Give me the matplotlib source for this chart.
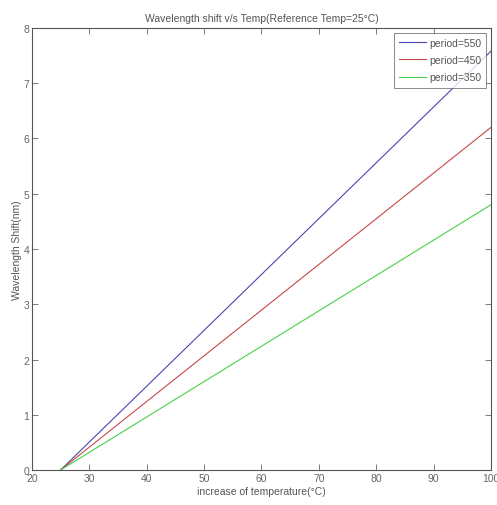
import matplotlib
matplotlib.use("Agg")
import matplotlib.pyplot as plt

temp = [25, 100]
shift_550 = [0, 7.58]
shift_450 = [0, 6.20]
shift_350 = [0, 4.80]

plt.rcParams['font.family'] = ['Liberation Sans', 'DejaVu Sans']

fig = plt.figure(figsize=(4.97, 5.06), dpi=100)
ax = fig.add_axes([0.064, 0.069, 0.924, 0.874])

ax.plot(temp, shift_550, color='#4848b0', lw=0.8, label='period=550')
ax.plot(temp, shift_450, color='#c84848', lw=0.8, label='period=450')
ax.plot(temp, shift_350, color='#48d048', lw=0.8, label='period=350')

ax.set_xlim(20, 100)
ax.set_ylim(0, 8)
ax.set_xticks(range(20, 101, 10))
ax.set_yticks(range(0, 9))
ax.tick_params(direction='in', top=True, right=True, labelsize=7.5,
               colors='#666666', length=4, width=0.6, pad=2)
for s in ax.spines.values():
    s.set_color('#555555')
    s.set_linewidth(0.8)

ax.set_title('Wavelength shift v/s Temp(Reference Temp=25°C)', fontsize=7.5,
             color='#555555', pad=5)
ax.set_xlabel('increase of temperature(°C)', fontsize=7.5, color='#555555', labelpad=2)
ax.set_ylabel('Wavelength Shift(nm)', fontsize=7.5, color='#555555', labelpad=1)

leg = ax.legend(loc='upper right', fontsize=7.5, handlelength=2.6, fancybox=False,
                borderaxespad=0.45, labelspacing=0.7, handletextpad=0.3,
                borderpad=0.5)
leg.get_frame().set_edgecolor('#555555')
leg.get_frame().set_linewidth(0.6)
for t in leg.get_texts():
    t.set_color('#555555')

fig.savefig('out.png', dpi=100)
